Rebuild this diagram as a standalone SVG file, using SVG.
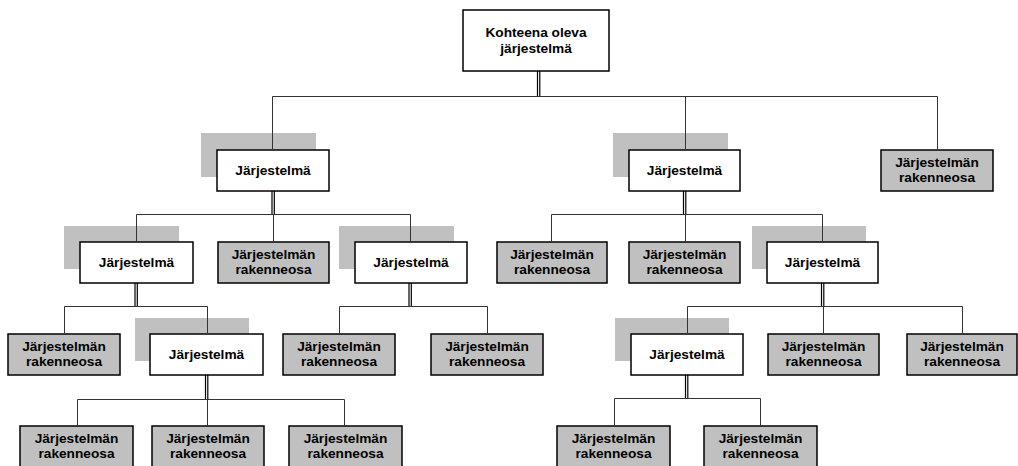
<svg xmlns="http://www.w3.org/2000/svg" width="1018" height="466" viewBox="0 0 1018 466">
  <style>
    .bg { fill: #ffffff; }
    .shadow { fill: #c0c0c0; }
    .sys { fill: #ffffff; stroke: #000000; stroke-width: 1.5; }
    .part { fill: #c0c0c0; stroke: #000000; stroke-width: 1.5; }
    .lbl { font-family: "Liberation Sans", Arial, sans-serif; font-size: 13.7px; font-weight: bold; fill: #000000; text-anchor: middle; }
    .wire { fill: none; stroke: #333333; stroke-width: 1; }
    .dbl { fill: none; stroke: #000000; stroke-width: 1.2; }
  </style>
  <rect class="bg" x="0" y="0" width="1018" height="466"/>

  <!-- root -->
  <g id="root">
    <rect class="sys" x="463" y="10" width="146" height="61"/>
    <text class="lbl" x="536" y="37">Kohteena oleva</text>
    <text class="lbl" x="536" y="53">järjestelmä</text>
  </g>

  <!-- level 1 -->
  <g id="sys-a">
    <rect class="shadow" x="201" y="133" width="115" height="44"/>
    <rect class="sys" x="217" y="150" width="112" height="41"/>
    <text class="lbl" x="273" y="175">Järjestelmä</text>
  </g>
  <g id="sys-b">
    <rect class="shadow" x="613" y="133" width="115" height="44"/>
    <rect class="sys" x="629" y="150" width="111" height="41"/>
    <text class="lbl" x="684.5" y="175">Järjestelmä</text>
  </g>
  <g id="part-c">
    <rect class="part" x="881" y="150" width="112" height="41"/>
    <text class="lbl" x="937" y="167">Järjestelmän</text>
    <text class="lbl" x="937" y="182">rakenneosa</text>
  </g>

  <!-- level 2 -->
  <g id="sys-a1">
    <rect class="shadow" x="64" y="226" width="115" height="43"/>
    <rect class="sys" x="80" y="242" width="113" height="41"/>
    <text class="lbl" x="136.5" y="267">Järjestelmä</text>
  </g>
  <g id="part-a2">
    <rect class="part" x="218" y="242" width="111" height="41"/>
    <text class="lbl" x="273.5" y="259">Järjestelmän</text>
    <text class="lbl" x="273.5" y="274">rakenneosa</text>
  </g>
  <g id="sys-a3">
    <rect class="shadow" x="339" y="226" width="115" height="43"/>
    <rect class="sys" x="355" y="242" width="112" height="41"/>
    <text class="lbl" x="411" y="267">Järjestelmä</text>
  </g>
  <g id="part-b1">
    <rect class="part" x="497" y="242" width="110" height="41"/>
    <text class="lbl" x="552" y="259">Järjestelmän</text>
    <text class="lbl" x="552" y="274">rakenneosa</text>
  </g>
  <g id="part-b2">
    <rect class="part" x="629" y="242" width="111" height="41"/>
    <text class="lbl" x="684.5" y="259">Järjestelmän</text>
    <text class="lbl" x="684.5" y="274">rakenneosa</text>
  </g>
  <g id="sys-b3">
    <rect class="shadow" x="752" y="226" width="114" height="43"/>
    <rect class="sys" x="767" y="242" width="111" height="41"/>
    <text class="lbl" x="822.5" y="267">Järjestelmä</text>
  </g>

  <!-- level 3 -->
  <g id="part-a1a">
    <rect class="part" x="8" y="334" width="112" height="41"/>
    <text class="lbl" x="64" y="351">Järjestelmän</text>
    <text class="lbl" x="64" y="366">rakenneosa</text>
  </g>
  <g id="sys-a1b">
    <rect class="shadow" x="135" y="318" width="114" height="43"/>
    <rect class="sys" x="150" y="334" width="113" height="41"/>
    <text class="lbl" x="206.5" y="359">Järjestelmä</text>
  </g>
  <g id="part-a3a">
    <rect class="part" x="283" y="334" width="112" height="41"/>
    <text class="lbl" x="339" y="351">Järjestelmän</text>
    <text class="lbl" x="339" y="366">rakenneosa</text>
  </g>
  <g id="part-a3b">
    <rect class="part" x="431" y="334" width="112" height="41"/>
    <text class="lbl" x="487" y="351">Järjestelmän</text>
    <text class="lbl" x="487" y="366">rakenneosa</text>
  </g>
  <g id="sys-b3a">
    <rect class="shadow" x="615" y="318" width="114" height="43"/>
    <rect class="sys" x="631" y="334" width="112" height="41"/>
    <text class="lbl" x="687" y="359">Järjestelmä</text>
  </g>
  <g id="part-b3b">
    <rect class="part" x="768" y="334" width="111" height="41"/>
    <text class="lbl" x="823.5" y="351">Järjestelmän</text>
    <text class="lbl" x="823.5" y="366">rakenneosa</text>
  </g>
  <g id="part-b3c">
    <rect class="part" x="907" y="334" width="110" height="41"/>
    <text class="lbl" x="962" y="351">Järjestelmän</text>
    <text class="lbl" x="962" y="366">rakenneosa</text>
  </g>

  <!-- level 4 -->
  <g id="part-a1b1">
    <rect class="part" x="20" y="426" width="113" height="41"/>
    <text class="lbl" x="76.5" y="443">Järjestelmän</text>
    <text class="lbl" x="76.5" y="458">rakenneosa</text>
  </g>
  <g id="part-a1b2">
    <rect class="part" x="152" y="426" width="112" height="41"/>
    <text class="lbl" x="208" y="443">Järjestelmän</text>
    <text class="lbl" x="208" y="458">rakenneosa</text>
  </g>
  <g id="part-a1b3">
    <rect class="part" x="289" y="426" width="113" height="41"/>
    <text class="lbl" x="345.5" y="443">Järjestelmän</text>
    <text class="lbl" x="345.5" y="458">rakenneosa</text>
  </g>
  <g id="part-b3a1">
    <rect class="part" x="557" y="426" width="113" height="41"/>
    <text class="lbl" x="613.5" y="443">Järjestelmän</text>
    <text class="lbl" x="613.5" y="458">rakenneosa</text>
  </g>
  <g id="part-b3a2">
    <rect class="part" x="704" y="426" width="113" height="41"/>
    <text class="lbl" x="760.5" y="443">Järjestelmän</text>
    <text class="lbl" x="760.5" y="458">rakenneosa</text>
  </g>

  <!-- connectors: double stem below each parent, bus line, single drops to children -->
  <g id="connectors">
    <!-- root -->
    <path class="dbl" d="M537.5 71 V96.5 M539.8 71 V96.5"/>
    <path class="wire" d="M272.5 150 V96.5 H937.5 V150 M685.5 96.5 V150"/>
    <!-- sys-a -->
    <path class="dbl" d="M272 191 V214.5 M274.3 191 V214.5"/>
    <path class="wire" d="M136.5 242 V214.5 H410.5 V242 M273.5 214.5 V242"/>
    <!-- sys-b -->
    <path class="dbl" d="M683.5 191 V214.5 M685.8 191 V214.5"/>
    <path class="wire" d="M551.5 242 V214.5 H822.5 V242 M685.5 214.5 V242"/>
    <!-- sys-a1 -->
    <path class="dbl" d="M135 283 V306.5 M137.3 283 V306.5"/>
    <path class="wire" d="M64.5 334 V306.5 H207.5 V334"/>
    <!-- sys-a3 -->
    <path class="dbl" d="M409 283 V306.5 M411.3 283 V306.5"/>
    <path class="wire" d="M339.5 334 V306.5 H487.5 V334"/>
    <!-- sys-b3 -->
    <path class="dbl" d="M821.5 283 V306.5 M823.8 283 V306.5"/>
    <path class="wire" d="M687.5 334 V306.5 H962.5 V334 M823.5 306.5 V334"/>
    <!-- sys-a1b -->
    <path class="dbl" d="M205.5 375 V399.5 M207.8 375 V399.5"/>
    <path class="wire" d="M77.5 426 V399.5 H344.5 V426 M207.5 399.5 V426"/>
    <!-- sys-b3a -->
    <path class="dbl" d="M685.5 375 V398.5 M687.8 375 V398.5"/>
    <path class="wire" d="M614.5 426 V398.5 H760.5 V426"/>
  </g>
</svg>
